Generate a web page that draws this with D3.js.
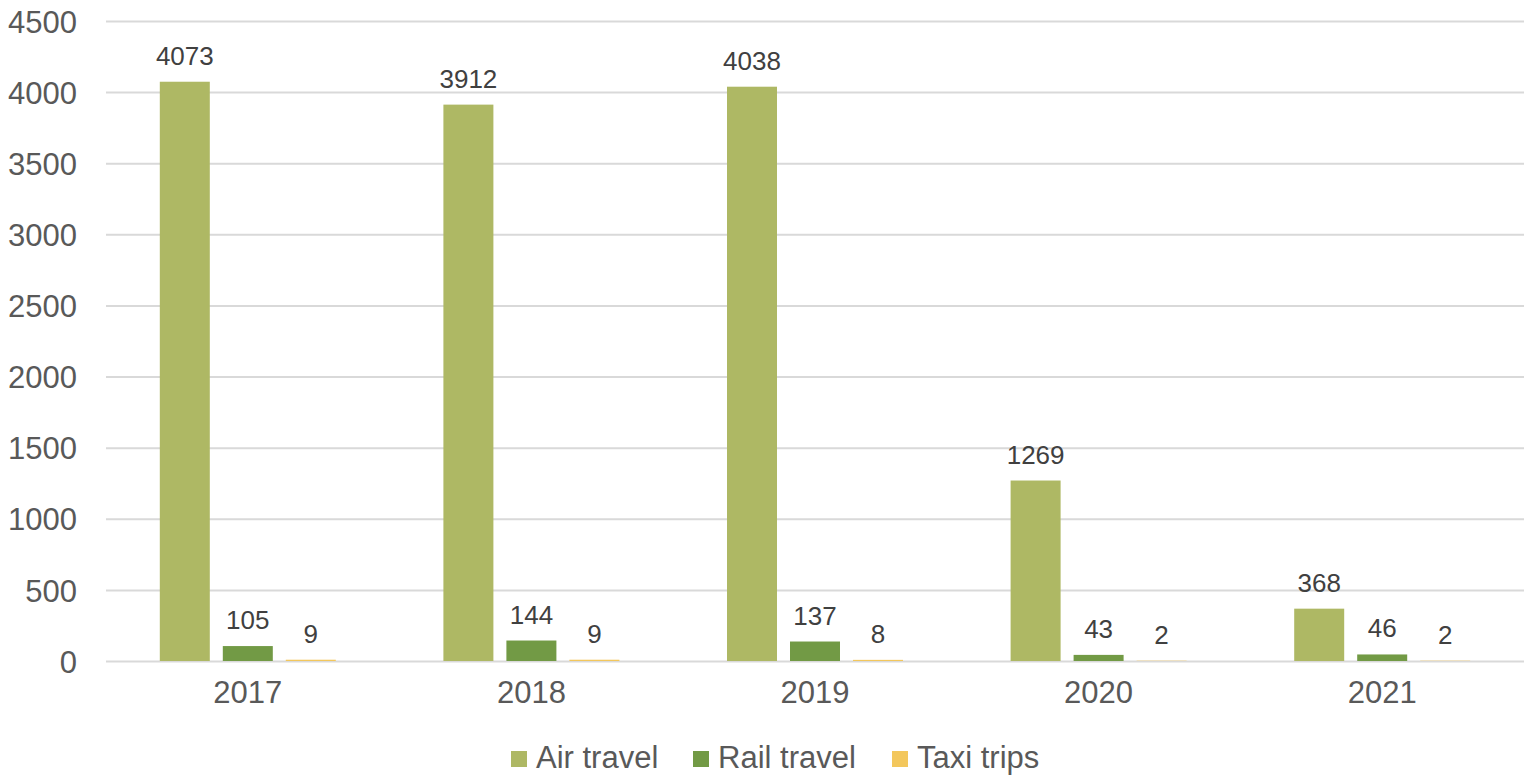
<!DOCTYPE html>
<html>
    <head>
        <meta charset="utf-8">
        <title>Travel</title>
        <script src="https://d3js.org/d3.v7.min.js"></script>
        <style>
            body { margin: 0; background: #fff; }
            text { font-family: "Liberation Sans", Arial, sans-serif; }
        </style>
    </head>
    <body>
        <div id="viz"></div>
    </body>
    <script>
        // chart data
        let years = ['2017', '2018', '2019', '2020', '2021'];
        let seriesNames = ['Air travel', 'Rail travel', 'Taxi trips'];
        let airTravel = [4073, 3912, 4038, 1269, 368];
        let railTravel = [105, 144, 137, 43, 46];
        let taxiTrips = [9, 9, 8, 2, 2];
        let yTicks = [0, 500, 1000, 1500, 2000, 2500, 3000, 3500, 4000, 4500];
        let colors = ['#aeb864', '#729a45', '#f3c75c'];

        let width = 1524,
            height = 775;

        let svg = d3.select('#viz')
            .append('svg')
            .attr('width', width)
            .attr('height', height);

        let x = d3.scaleBand()
            .domain(years)
            .range([106, 1524])
            .padding(0);

        let xInner = d3.scaleBand()
            .domain(seriesNames)
            .range([-88, 88])
            .paddingInner(13 / 63);

        let y = d3.scaleLinear()
            .domain([0, 4500])
            .range([661, 21]);

        let color = d3.scaleOrdinal().domain(seriesNames).range(colors);

        // gridlines + y labels
        let yAxis = svg.append('g')
            .attr('transform', 'translate(106,0)')
            .call(d3.axisLeft(y).tickValues(yTicks).tickSize(-(1524 - 106)).tickPadding(29).tickFormat(d3.format('d')));
        yAxis.select('.domain').remove();
        yAxis.selectAll('line').attr('stroke', '#d9d9d9').attr('stroke-width', 2);
        yAxis.selectAll('text')
            .attr('fill', '#595959')
            .style('font-size', '31px')
            .attr('dy', '0.36em');

        // x labels
        let xAxis = svg.append('g')
            .attr('transform', 'translate(0,661)')
            .call(d3.axisBottom(x).tickSize(0).tickPadding(20));
        xAxis.select('.domain').remove();
        xAxis.selectAll('text')
            .attr('fill', '#595959')
            .style('font-size', '31px')
            .attr('dy', '0.71em');

        let rows = years.map((yr, i) => ({
            year: yr,
            values: [
                {name: seriesNames[0], value: airTravel[i]},
                {name: seriesNames[1], value: railTravel[i]},
                {name: seriesNames[2], value: taxiTrips[i]}
            ]
        }));

        let group = svg.selectAll('.bar-group')
            .data(rows)
            .enter()
            .append('g')
            .attr('class', 'bar-group')
            .attr('transform', d => `translate(${x(d.year) + x.bandwidth() / 2},0)`);

        group.selectAll('rect')
            .data(d => d.values)
            .enter()
            .append('rect')
            .attr('x', d => xInner(d.name))
            .attr('y', d => y(d.value))
            .attr('width', xInner.bandwidth())
            .attr('height', d => y(0) - y(d.value))
            .style('fill', d => color(d.name));

        group.selectAll('.label')
            .data(d => d.values)
            .enter()
            .append('text')
            .attr('class', 'label')
            .attr('x', d => xInner(d.name) + xInner.bandwidth() / 2)
            .attr('y', d => y(d.value) - 17)
            .attr('text-anchor', 'middle')
            .attr('fill', '#404040')
            .style('font-size', '26px')
            .text(d => d.value);

        // legend
        let legendX = [511, 693, 892];
        let legend = svg.selectAll('.legend')
            .data(seriesNames)
            .enter()
            .append('g')
            .attr('class', 'legend')
            .attr('transform', (d, i) => `translate(${legendX[i]},0)`);

        legend.append('rect')
            .attr('x', 0)
            .attr('y', 751)
            .attr('width', 16)
            .attr('height', 16)
            .style('fill', d => color(d));

        legend.append('text')
            .attr('x', 25)
            .attr('y', 768)
            .attr('fill', '#595959')
            .style('font-size', '31px')
            .text(d => d);
    </script>
</html>
